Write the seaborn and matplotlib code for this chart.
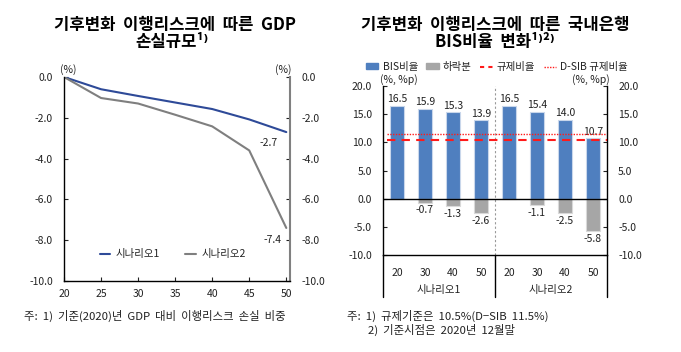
import numpy as np
import pandas as pd
import seaborn as sns
import matplotlib.pyplot as plt
from matplotlib.patches import Patch
from matplotlib.lines import Line2D
import matplotlib.transforms as mtransforms

sns.set_style('white')
plt.rcParams['font.family'] = ['Noto Sans CJK KR', 'DejaVu Sans']
plt.rcParams['axes.unicode_minus'] = False

# left chart: GDP loss (%)
years = [20, 25, 30, 35, 40, 45, 50]
scen1 = [0.0, -0.6, -0.93, -1.25, -1.57, -2.08, -2.7]
scen2 = [0.0, -1.03, -1.3, -1.85, -2.42, -3.6, -7.4]
scen_names = ['시나리오1', '시나리오2']

# right chart: BIS ratio (%, %p)
bank_years = ['20', '30', '40', '50']
bis = [16.5, 15.9, 15.3, 13.9, 16.5, 15.4, 14.0, 10.7]
drop = [np.nan, -0.7, -1.3, -2.6, np.nan, -1.1, -2.5, -5.8]
reg_ratio = 10.5
dsib_ratio = 11.5

txt = '#222222'
blue_line = '#2E4A98'
gray_line = '#7F7F7F'
bar_blue = '#4F7FBF'
bar_gray = '#A6A6A6'
red = '#FF1A1A'

fig = plt.figure(figsize=(6.81, 3.52), dpi=100)

# ---------------- left chart
ax1 = fig.add_axes([64/681, 1-281/352, 226/681, 204/352])
df1 = pd.DataFrame({'year': years * 2,
                    'loss': scen1 + scen2,
                    'scenario': [scen_names[0]] * len(years) + [scen_names[1]] * len(years)})
sns.lineplot(data=df1, x='year', y='loss', hue='scenario',
             palette=[blue_line, gray_line], linewidth=1.5, legend=False, ax=ax1)
ax1.set_xlim(20, 50.5)
ax1.set_ylim(-10, 0)
ax1.set_xticks(years)
ax1.set_yticks(np.arange(-10, 0.1, 2))
ax1.set_yticklabels([f'{v:.1f}' for v in np.arange(-10, 0.1, 2)])
ax1.set_xlabel('')
ax1.set_ylabel('')
for s in ['left', 'bottom']:
    ax1.spines[s].set_color('black')
    ax1.spines[s].set_linewidth(1.0)
ax1.spines['top'].set_visible(False)
ax1.spines['right'].set_color('#808080')
ax1.spines['right'].set_linewidth(1.5)
ax1.tick_params(axis='y', left=True, right=True, labelleft=True, labelright=True,
                direction='in', length=3, pad=8, labelsize=7.5, colors=txt)
ax1.tick_params(axis='x', bottom=True, direction='in', length=3, pad=6,
                labelsize=7.5, colors=txt)
ax1.annotate(f'{scen1[-1]:.1f}', (years[-1], scen1[-1]), xytext=(-13, -8),
             textcoords='offset points', ha='center', va='center', fontsize=7.5, color=txt)
ax1.annotate(f'{scen2[-1]:.1f}', (years[-1], scen2[-1]), xytext=(-10, -9),
             textcoords='offset points', ha='center', va='center', fontsize=7.5, color=txt)
ax1.text(0.02, 1.01, '(%)', transform=ax1.transAxes, ha='center', va='bottom', fontsize=7.5, color=txt)
ax1.text(0.97, 1.01, '(%)', transform=ax1.transAxes, ha='center', va='bottom', fontsize=7.5, color=txt)
h1 = [Line2D([], [], color=blue_line, lw=1.5), Line2D([], [], color=gray_line, lw=1.5)]
ax1.legend(h1, scen_names, loc='center', bbox_to_anchor=(0.48, 0.13), ncol=2, frameon=False,
           fontsize=7.5, handlelength=1.0, handletextpad=0.5, columnspacing=2.5, labelcolor=txt)

# ---------------- right chart
ax2 = fig.add_axes([383/681, 1-255/352, 224/681, 169/352])
pos = list(range(len(bis)))
sns.barplot(x=pos, y=bis, order=pos, color=bar_blue, saturation=1, width=0.5,
            edgecolor='#C9D7EB', linewidth=0.8, errorbar=None, ax=ax2)
sns.barplot(x=pos, y=drop, order=pos, color=bar_gray, saturation=1, width=0.5,
            edgecolor='#D9D9D9', linewidth=0.8, errorbar=None, ax=ax2)
ax2.set_xlim(-0.5, len(bis) - 0.5)
ax2.set_ylim(-10, 20)
ax2.set_yticks(np.arange(-10, 20.1, 5))
ax2.set_yticklabels([f'{v:.1f}' for v in np.arange(-10, 20.1, 5)])
ax2.set_xticks(pos)
ax2.set_xticklabels(bank_years * 2)
ax2.set_xlabel('')
ax2.set_ylabel('')
for s in ['left', 'right', 'bottom']:
    ax2.spines[s].set_color('black')
    ax2.spines[s].set_linewidth(1.0)
ax2.spines['top'].set_visible(False)
ax2.tick_params(axis='y', left=True, right=True, labelleft=True, labelright=True,
                direction='in', length=3, pad=8, labelsize=7.5, colors=txt)
ax2.tick_params(axis='x', bottom=False, pad=6, labelsize=7.5, colors=txt)
ax2.axhline(0, color='black', lw=1.0, zorder=3)
ax2.axhline(reg_ratio, xmin=0.02, xmax=1, color=red, lw=1.5, ls=(0, (4, 3)), zorder=4)
ax2.axhline(dsib_ratio, xmin=0.02, xmax=1, color=red, lw=1.0, ls=(0, (1, 1)), zorder=4)
ax2.axvline(3.5, color='#999999', lw=0.8, ls=(0, (2, 2)), zorder=1)
for i, v in enumerate(bis):
    ax2.text(i, v + 0.3, f'{v:.1f}', ha='center', va='bottom', fontsize=7.5, color=txt)
for i, d in enumerate(drop):
    if not np.isnan(d):
        ax2.text(i, d - 0.5, f'{d:.1f}', ha='center', va='top', fontsize=7.5, color=txt)
trans = mtransforms.blended_transform_factory(ax2.transData, ax2.transAxes)
for xv, y0 in [(-0.5, -0.25), (3.5, -0.25), (len(bis) - 0.5, -0.25)]:
    ax2.plot([xv, xv], [y0, 0], color='black', lw=1.0, transform=trans, clip_on=False)
for k, name in enumerate(scen_names):
    ax2.text(1.5 + 4 * k, -0.205, name, transform=trans, ha='center', va='center',
             fontsize=7.5, color=txt)
ax2.text(0.07, 1.005, '(%, %p)', transform=ax2.transAxes, ha='center', va='bottom', fontsize=7.5, color=txt)
ax2.text(0.93, 1.005, '(%, %p)', transform=ax2.transAxes, ha='center', va='bottom', fontsize=7.5, color=txt)
h2 = [Patch(color=bar_blue), Patch(color=bar_gray),
      Line2D([], [], color=red, lw=1.5, ls=(0, (2, 2))),
      Line2D([], [], color=red, lw=1.0, ls=(0, (1, 1)))]
fig.legend(h2, ['BIS비율', '하락분', '규제비율', 'D-SIB 규제비율'], loc='center',
           bbox_to_anchor=(497/681, 1-67/352), ncol=4, frameon=False, fontsize=7.5,
           handlelength=1.2, handleheight=0.5, handletextpad=0.4, columnspacing=0.8, labelcolor=txt)

# ---------------- titles and notes
fig.text(175/681, 1-25/352, '기후변화  이행리스크에  따른  GDP', ha='center', va='center',
         fontsize=12, fontweight='bold', color='black')
fig.text(172/681, 1-42/352, '손실규모¹⁾', ha='center', va='center',
         fontsize=12, fontweight='bold', color='black')
fig.text(495/681, 1-25/352, '기후변화  이행리스크에  따른  국내은행', ha='center', va='center',
         fontsize=12, fontweight='bold', color='black')
fig.text(495/681, 1-42/352, 'BIS비율  변화¹⁾²⁾', ha='center', va='center',
         fontsize=12, fontweight='bold', color='black')
fig.text(24/681, 1-316/352, '주:  1)  기준(2020)년  GDP  대비  이행리스크  손실  비중', ha='left', va='center',
         fontsize=8.2, color=txt)
fig.text(347/681, 1-316/352, '주:  1)  규제기준은  10.5%(D−SIB  11.5%)', ha='left', va='center',
         fontsize=8.2, color=txt)
fig.text(368/681, 1-330/352, '2)  기준시점은  2020년  12월말', ha='left', va='center',
         fontsize=8.2, color=txt)

fig.savefig('out.png', dpi=100)
